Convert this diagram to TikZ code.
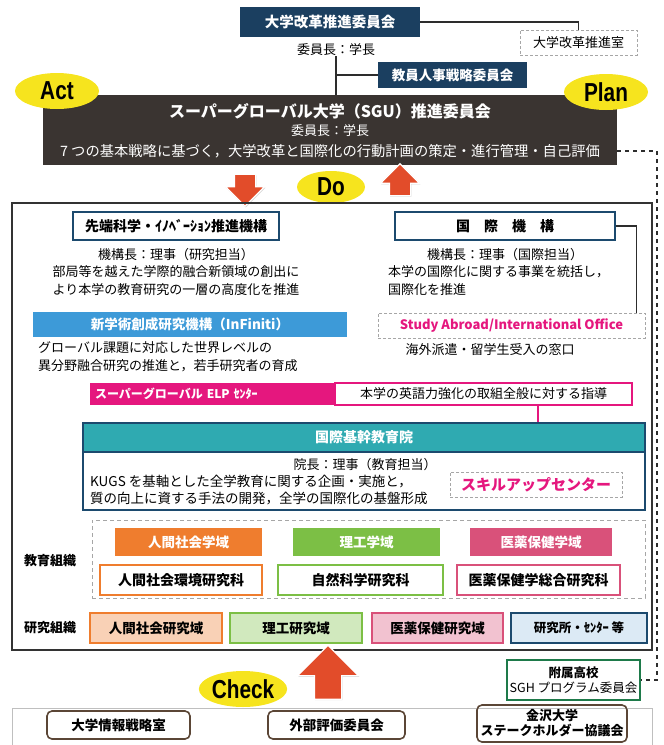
\documentclass[tikz,border=0pt]{standalone}
\usepackage{fontspec}
\setmainfont{Noto Sans CJK JP}
\newfontfamily\pdcafont{Liberation Sans}
\usetikzlibrary{shapes.geometric, shapes.arrows, shadows, calc, positioning}

\definecolor{navy}{RGB}{27,63,96}
\definecolor{sgudark}{RGB}{58,52,49}
\definecolor{pdcayellow}{RGB}{246,228,30}
\definecolor{arrowred}{RGB}{226,76,42}
\definecolor{boxblue}{RGB}{28,74,110}
\definecolor{paleblue}{RGB}{220,234,245}
\definecolor{infblue}{RGB}{61,154,216}
\definecolor{elpmagenta}{RGB}{229,23,126}
\definecolor{kikanteal}{RGB}{47,170,177}
\definecolor{orgorange}{RGB}{239,125,46}
\definecolor{orggreen}{RGB}{124,191,69}
\definecolor{orgpink}{RGB}{217,81,122}
\definecolor{sghgreen}{RGB}{30,122,74}
\definecolor{brownline}{RGB}{91,70,54}

\begin{document}
\begin{tikzpicture}[x=1pt, y=-1pt,
	every node/.style={inner sep=0pt, font=\fontsize{13}{15}\selectfont},
	navybox/.style={fill=navy, text=white, font=\bfseries\fontsize{14.5}{16}\selectfont},
	pdca/.style={ellipse, fill=pdcayellow, minimum width=84, minimum height=36, font=\pdcafont\bfseries\fontsize{26}{26}\selectfont},
	linebox/.style={draw=#1, line width=1.4pt, fill=white, font=\bfseries\fontsize{14}{16}\selectfont},
	dashbox/.style={draw=gray!70, dash pattern=on 3pt off 2pt, line width=0.8pt, fill=white},
	fillbox/.style={fill=#1, text=white, font=\bfseries\fontsize{13.5}{16}\selectfont},
	resbox/.style={draw=#1, fill=#1!35, line width=1.4pt, font=\bfseries\fontsize{13.5}{16}\selectfont},
	roundbox/.style={draw=brownline, rounded corners=5pt, line width=1.6pt, font=\bfseries\fontsize{13.5}{16}\selectfont},
	bigarrow/.style={single arrow, single arrow head indent=0pt, inner xsep=0pt, fill=arrowred, draw=white, line width=1.2pt, drop shadow={shadow xshift=0.8pt, shadow yshift=-1pt, opacity=0.35}},
	conn/.style={draw=gray!35!black, line width=1.4pt}
]

	\useasboundingbox (0,0) rectangle (664,745);

	\node[navybox, minimum width=180, minimum height=30] (kaikaku) at (330,22) {大学改革推進委員会};
	\node (kaikakuchair) at (336,50) {委員長：学長};
	\node[dashbox, minimum width=117, minimum height=25] (suishin) at (578.5,42.5) {大学改革推進室};
	\node[navybox, minimum width=149, minimum height=26, font=\bfseries\fontsize{13.5}{16}\selectfont] (jinji) at (452.5,75) {教員人事戦略委員会};
	\draw[conn] (kaikaku.east) -| (suishin.north);

	\node[fill=sgudark, minimum width=574, minimum height=70] (sgu) at (330,130) {};
	\node[text=white, font=\bfseries\fontsize{16}{18}\selectfont] (sgutitle) at (330,111) {スーパーグローバル大学（SGU）推進委員会};
	\node[text=white] (sguchair) at (330,131) {委員長：学長};
	\node[text=white, font=\fontsize{14.3}{16}\selectfont] (sgutask) at (330,151) {7 つの基本戦略に基づく，大学改革と国際化の行動計画の策定・進行管理・自己評価};
	\draw[conn] (kaikakuchair.south) -- (kaikakuchair.south |- sgu.north);
	\draw[conn] (jinji.west) -- (jinji.west -| kaikakuchair.south);

	\node[pdca] (act) at (57,91) {\scalebox{.8}[1]{Act}};
	\node[pdca] (plan) at (606,92) {\scalebox{.8}[1]{Plan}};

	\node[bigarrow, rotate=-90, minimum height=32, inner ysep=10pt, single arrow head extend=9pt] (downarrow) at (245,185) {};
	\node[bigarrow, rotate=90, minimum height=32, inner ysep=10pt, single arrow head extend=9pt] (uparrow) at (400,185) {};
	\node[pdca, minimum width=68, minimum height=32] (do) at (331,187) {\scalebox{.8}[1]{Do}};

	\node[draw=gray!40!black, line width=1.6pt, minimum width=640, minimum height=447] (main) at (332,426.5) {};

	\node[linebox=boxblue, minimum width=206, minimum height=28] (sentan) at (176,226) {先端科学・ｲﾉﾍﾞｰｼｮﾝ推進機構};
	\node (sentanchair) at (176,255) {機構長：理事（研究担当）};
	\node (sentan1) at (176,272) {部局等を越えた学際的融合新領域の創出に};
	\node (sentan2) at (176,290) {より本学の教育研究の一層の高度化を推進};

	\node[linebox=boxblue, minimum width=220, minimum height=28] (kokusai) at (505,226) {国　際　機　構};
	\node (kokusaichair) at (505,255) {機構長：理事（国際担当）};
	\node[anchor=west] (kokusai1) at (388,272) {本学の国際化に関する事業を統括し，};
	\node[anchor=west] (kokusai2) at (388,290) {国際化を推進};

	\node[fillbox=infblue, minimum width=314, minimum height=25] (infiniti) at (190,324.5) {新学術創成研究機構（InFiniti）};
	\node[anchor=west] (infiniti1) at (38,348) {グローバル課題に対応した世界レベルの};
	\node[anchor=west] (infiniti2) at (38,366) {異分野融合研究の推進と，若手研究者の育成};

	\node[dashbox, minimum width=267, minimum height=25, text=elpmagenta, font=\bfseries\fontsize{13}{15}\selectfont] (abroad) at (511.5,325.5) {Study Abroad/International Office};
	\node (abroad1) at (490,350) {海外派遣・留学生受入の窓口};
	\draw[conn] (kokusai.east) -| ([xshift=-9pt]abroad.north east);

	\node[fill=elpmagenta, text=white, minimum width=245, minimum height=22, text width=235, align=left, font=\bfseries\fontsize{12}{14}\selectfont] (elp) at (212.5,394) {スーパーグローバル ELP ｾﾝﾀｰ};
	\node[draw=elpmagenta, line width=1.2pt, minimum width=297, minimum height=22] (elpguide) at (483.5,394) {本学の英語力強化の取組全般に対する指導};

	\node[fill=kikanteal, draw=boxblue, line width=1.5pt, text=white, minimum width=562, minimum height=29, font=\bfseries\fontsize{14}{16}\selectfont] (kikan) at (364,437.5) {国際基幹教育院};
	\node[draw=boxblue, line width=1.5pt, minimum width=562, minimum height=58] (kikanbody) at (364,481) {};
	\node (kikanchair) at (365,465) {院長：理事（教育担当）};
	\node[anchor=west, font=\fontsize{13.5}{15}\selectfont] (kikan1) at (90,482) {KUGS を基軸とした全学教育に関する企画・実施と，};
	\node[anchor=west, font=\fontsize{13.5}{15}\selectfont] (kikan2) at (90,499) {質の向上に資する手法の開発，全学の国際化の基盤形成};
	\node[dashbox, minimum width=172, minimum height=25, text=elpmagenta, font=\bfseries\fontsize{15}{17}\selectfont] (skillup) at (536,484.5) {スキルアップセンター};
	\draw[draw=elpmagenta, line width=1.4pt] ([xshift=54.5pt]elpguide.south) -- ([xshift=54.5pt]elpguide.south |- kikan.north);

	\node[draw=gray!70, dash pattern=on 4pt off 3pt, line width=0.9pt, minimum width=553, minimum height=78] (kyoiku) at (368.5,559) {};
	\node[font=\bfseries\fontsize{13}{15}\selectfont] (kyoikulabel) at (50,561) {教育組織};
	\node[fillbox=orgorange, minimum width=147, minimum height=28] (ningen) at (188.5,542) {人間社会学域};
	\node[fillbox=orggreen, minimum width=147, minimum height=28] (riko) at (366.5,542) {理工学域};
	\node[fillbox=orgpink, minimum width=142, minimum height=28] (iyaku) at (541,542) {医薬保健学域};
	\node[linebox=orgorange, minimum width=162, minimum height=30] (ningenken) at (181,580) {人間社会環境研究科};
	\node[linebox=orggreen, minimum width=165, minimum height=30] (shizen) at (360.5,580) {自然科学研究科};
	\node[linebox=orgpink, minimum width=163, minimum height=30] (iyakuken) at (538.5,580) {医薬保健学総合研究科};

	\node[font=\bfseries\fontsize{13}{15}\selectfont] (kenkyulabel) at (50,628) {研究組織};
	\node[resbox=orgorange, minimum width=132, minimum height=30] (ningeniki) at (156,628) {人間社会研究域};
	\node[resbox=orggreen, minimum width=132, minimum height=30] (rikoiki) at (296,628) {理工研究域};
	\node[resbox=orgpink, minimum width=131, minimum height=30] (iyakuiki) at (437.5,628) {医薬保健研究域};
	\node[resbox=boxblue, fill=paleblue, minimum width=136, minimum height=30, font=\bfseries\fontsize{12.5}{15}\selectfont] (center) at (579,628) {研究所・ｾﾝﾀｰ 等};

	\node[bigarrow, rotate=90, minimum height=54, inner ysep=13pt, single arrow head extend=17pt] (checkarrow) at (328,679) {};
	\node[pdca, minimum width=86, minimum height=36] (check) at (243,689) {\scalebox{.8}[1]{Check}};

	\node[draw=sghgreen, line width=1.5pt, fill=white, minimum width=133, minimum height=40, align=center, font=\fontsize{12.5}{15}\selectfont] (fuzoku) at (573.5,680) {\textbf{附属高校}\\SGH プログラム委員会};
	\coordinate (dashcorner) at (657,151);
	\draw[draw=gray!35!black, line width=1.6pt, dash pattern=on 4pt off 4pt] (sgutask -| sgu.east) -- (dashcorner) |- (fuzoku.east);

	\node[draw=gray!50, line width=1pt, minimum width=640, minimum height=54] (hyoka) at (332,735) {};
	\node[roundbox, minimum width=143, minimum height=28] (joho) at (118.5,725) {大学情報戦略室};
	\node[roundbox, minimum width=137, minimum height=28] (gaibu) at (336.5,725) {外部評価委員会};
	\node[roundbox, minimum width=150, minimum height=37, align=center, font=\bfseries\fontsize{13}{15}\selectfont] (stake) at (552,723.5) {金沢大学\\ステークホルダー協議会};

\end{tikzpicture}
\end{document}
